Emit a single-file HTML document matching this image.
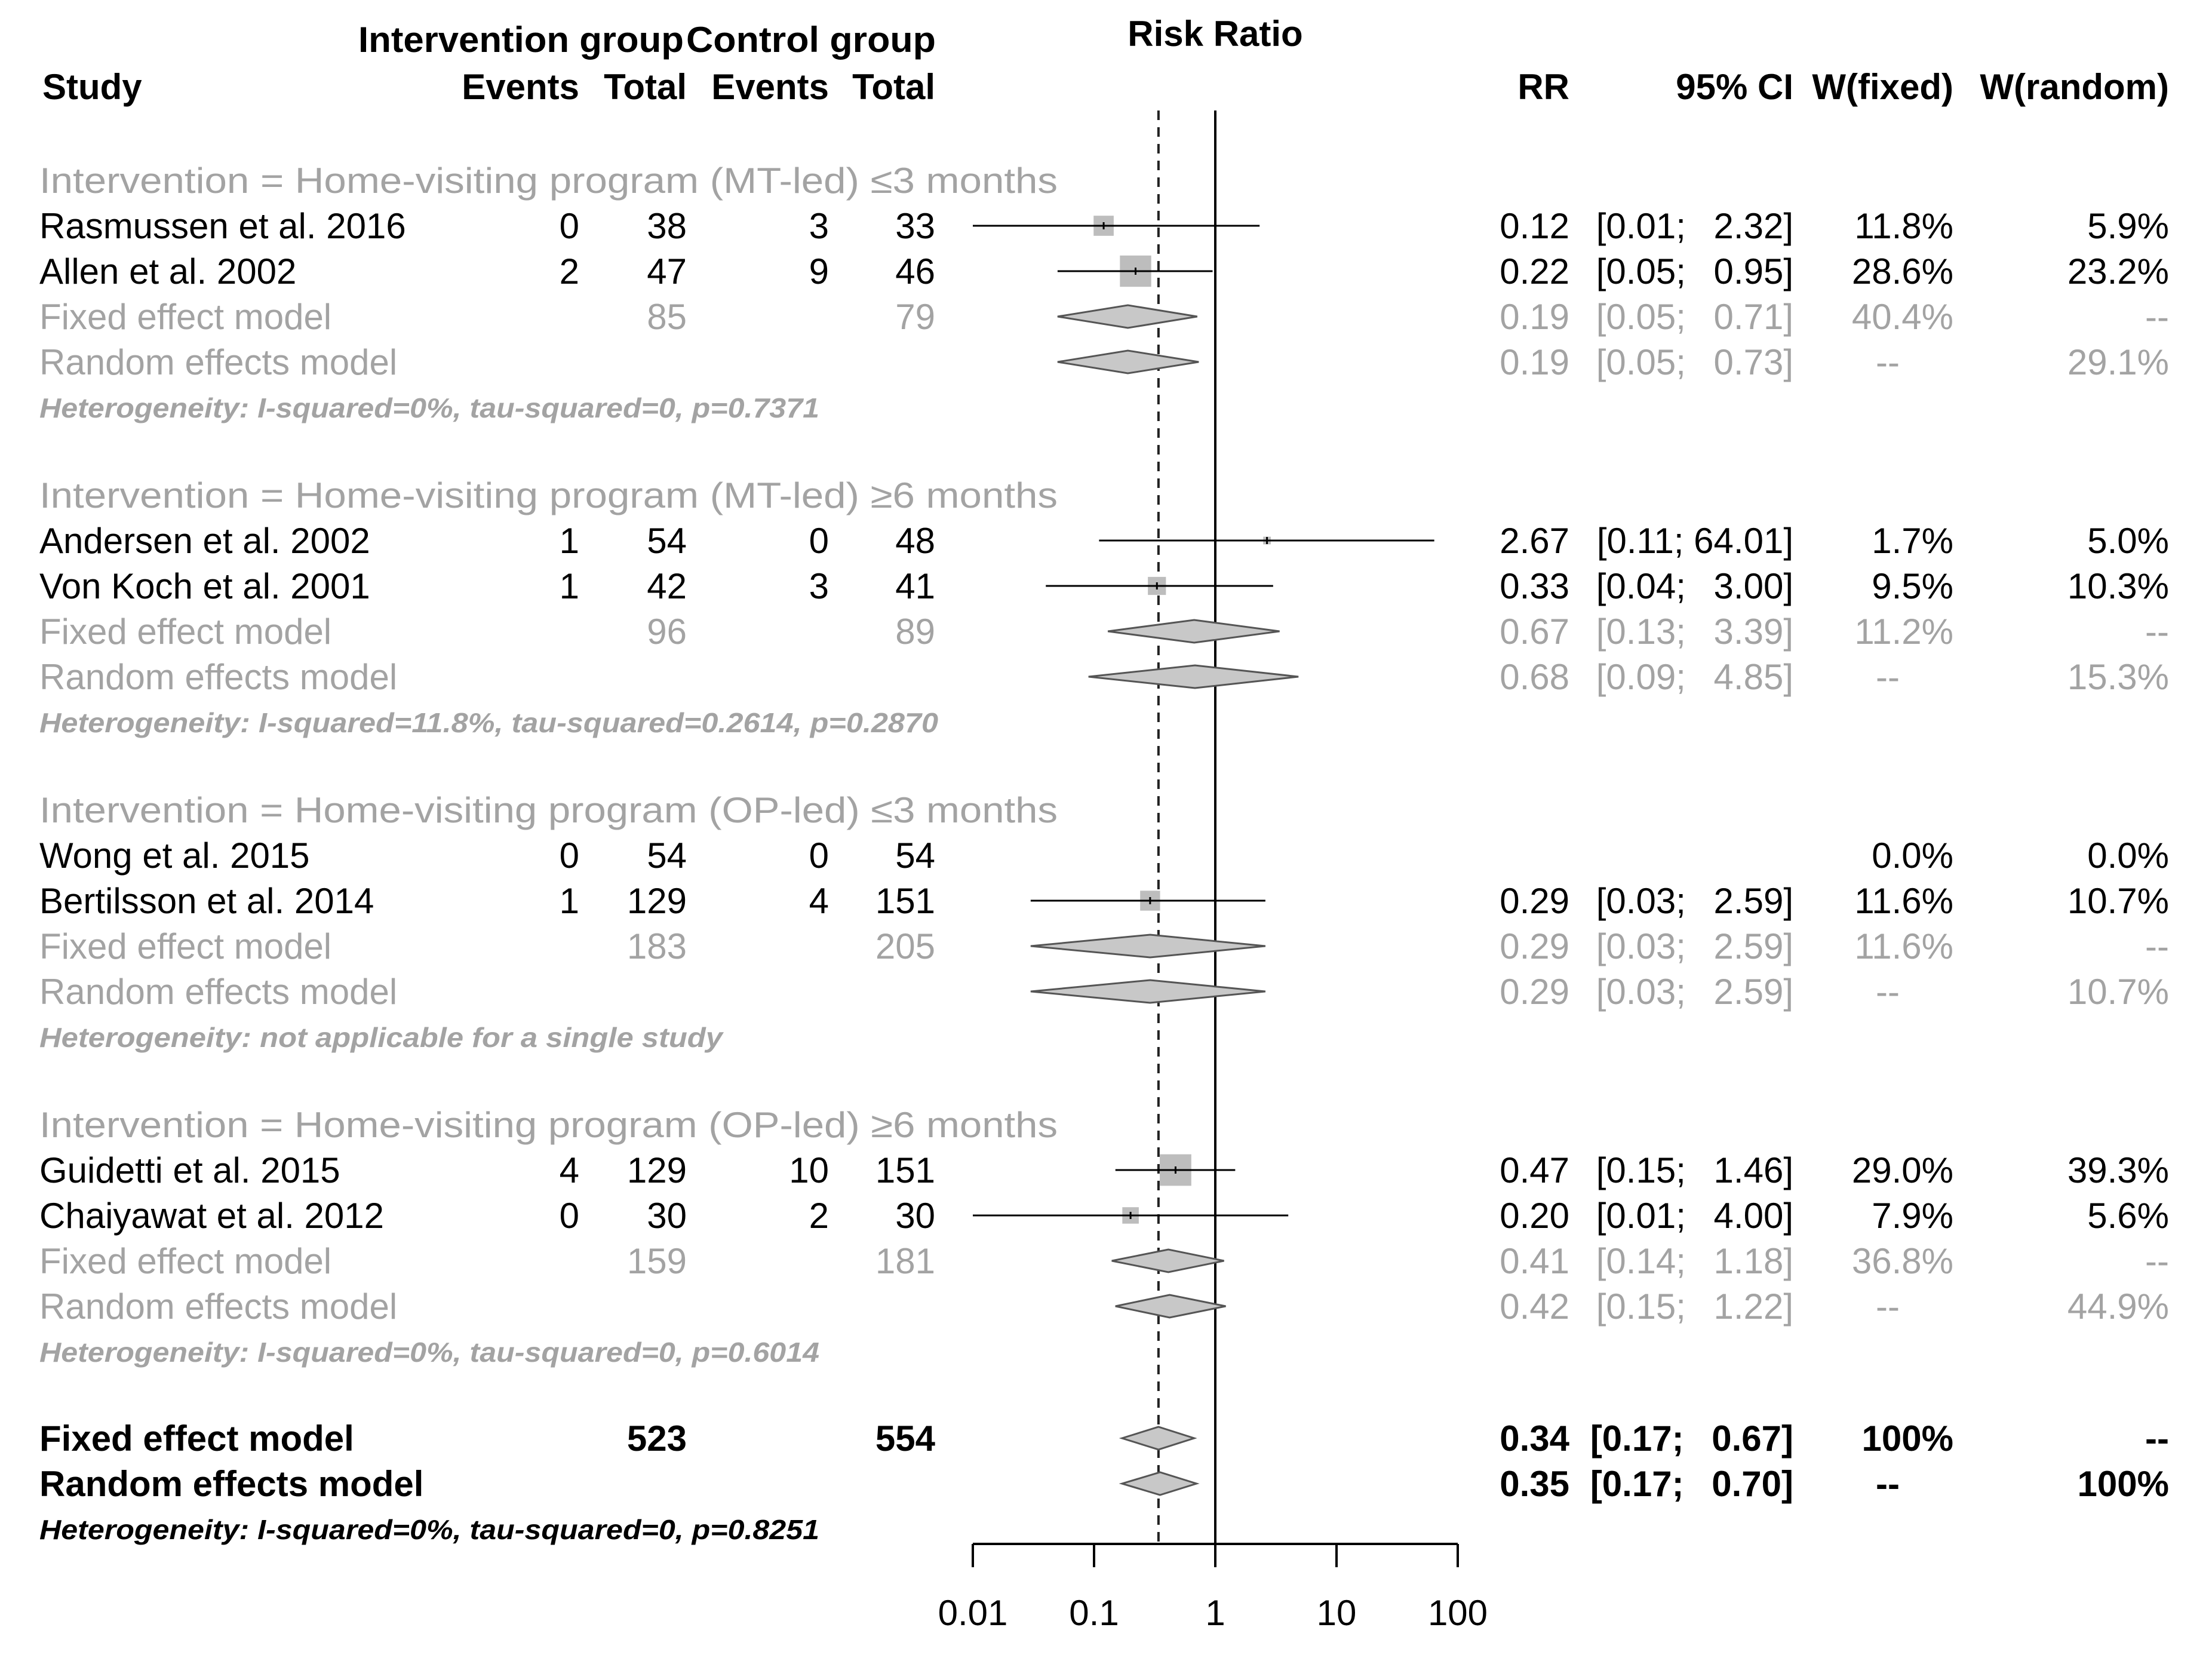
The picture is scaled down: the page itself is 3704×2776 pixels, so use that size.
<!DOCTYPE html>
<html><head><meta charset="utf-8"><style>
html,body{margin:0;padding:0;background:#fff}
svg{display:block}
text{font-family:"Liberation Sans",Arial,sans-serif}
</style></head><body>
<svg id="plot" width="3704" height="2776" viewBox="0 0 3704 2776" xmlns="http://www.w3.org/2000/svg"></svg>
<script>
const groupTitles=["Intervention = Home-visiting program (MT-led) \u22643 months","Intervention = Home-visiting program (MT-led) \u22656 months","Intervention = Home-visiting program (OP-led) \u22643 months","Intervention = Home-visiting program (OP-led) \u22656 months"];
const studies=[["Rasmussen et al. 2016","Allen et al. 2002"],["Andersen et al. 2002","Von Koch et al. 2001"],["Wong et al. 2015","Bertilsson et al. 2014"],["Guidetti et al. 2015","Chaiyawat et al. 2012"]];
const evI=[[0,2],[1,1],[0,1],[4,0]];
const totI=[[38,47],[54,42],[54,129],[129,30]];
const evC=[[3,9],[0,3],[0,4],[10,2]];
const totC=[[33,46],[48,41],[54,151],[151,30]];
const rr=[[0.12,0.22],[2.67,0.33],[null,0.29],[0.47,0.20]];
const lo=[[0.01,0.05],[0.11,0.04],[null,0.03],[0.15,0.01]];
const hi=[[2.32,0.95],[64.01,3.00],[null,2.59],[1.46,4.00]];
const wFix=[[11.8,28.6],[1.7,9.5],[0.0,11.6],[29.0,7.9]];
const wRan=[[5.9,23.2],[5.0,10.3],[0.0,10.7],[39.3,5.6]];
const sumTotI=[85,96,183,159];
const sumTotC=[79,89,205,181];
const fixRR=[0.19,0.67,0.29,0.41], fixLo=[0.05,0.13,0.03,0.14], fixHi=[0.71,3.39,2.59,1.18], fixW=["40.4%","11.2%","11.6%","36.8%"];
const ranRR=[0.19,0.68,0.29,0.42], ranLo=[0.05,0.09,0.03,0.15], ranHi=[0.73,4.85,2.59,1.22], ranW=["29.1%","15.3%","10.7%","44.9%"];
const hetText=["Heterogeneity: I-squared=0%, tau-squared=0, p=0.7371","Heterogeneity: I-squared=11.8%, tau-squared=0.2614, p=0.2870","Heterogeneity: not applicable for a single study","Heterogeneity: I-squared=0%, tau-squared=0, p=0.6014"];
const overallFix=[0.34,0.17,0.67], overallRan=[0.35,0.17,0.70];
const overallTot=[523,554];
const tickVals=[0.01,0.1,1,10,100];
const tickLabels=["0.01","0.1","1","10","100"];

const svg=document.getElementById('plot');
const NS="http://www.w3.org/2000/svg";
const X1=2035, DEC=203;
function xs(v){return X1+DEC*Math.log10(v);}
function el(tag,attrs){const e=document.createElementNS(NS,tag);for(const k in attrs)e.setAttribute(k,attrs[k]);svg.appendChild(e);return e;}
function txt(s,x,y,opt){opt=opt||{};const t=el('text',{x:x,y:y+21,'font-size':opt.size||60,fill:opt.fill||'#000','text-anchor':opt.anchor||'start'});
 if(opt.bold)t.setAttribute('font-weight','bold'); if(opt.italic)t.setAttribute('font-style','italic');
 if(opt.tl){t.setAttribute('textLength',opt.tl);t.setAttribute('lengthAdjust','spacingAndGlyphs');}
 t.textContent=s;return t;}
const GRAY='#a3a3a3';
const f2=v=>v.toFixed(2);
function ci(l,h){return "["+f2(l)+"; "+(h>=10?"":"\u2002")+f2(h)+"]";}
const C={ev1:970,tot1:1150,ev2:1388,tot2:1566,rr:2628,ci:3003,wf:3271,wr:3632,left:66};
const titleTL=1705;
const hetTL=[1306,1505,1144,1306];

// headers
txt("Intervention group",600,66,{bold:true,name:'intervention-group-header',tl:545});
txt("Control group",1149,66,{bold:true,name:'control-group-header',tl:418});
txt("Risk Ratio",X1,56,{bold:true,anchor:'middle',name:'risk-ratio-title'});
txt("Study",71,145,{bold:true,name:'study-header'});
txt("Events",C.ev1,145,{bold:true,anchor:'end',name:'events-header'});
txt("Total",C.tot1,145,{bold:true,anchor:'end',name:'total-header'});
txt("Events",C.ev2,145,{bold:true,anchor:'end',name:'events-header'});
txt("Total",C.tot2,145,{bold:true,anchor:'end',name:'total-header'});
txt("RR",C.rr,145,{bold:true,anchor:'end',name:'rr-header'});
txt("95% CI",C.ci,145,{bold:true,anchor:'end',name:'ci-header'});
txt("W(fixed)",C.wf,145,{bold:true,anchor:'end',name:'w-fixed-header'});
txt("W(random)",C.wr,145,{bold:true,anchor:'end',name:'w-random-header'});

// reference lines
const lnull=el('line',{x1:xs(1),x2:xs(1),y1:185,y2:2585,stroke:'#000','stroke-width':4});

const ldash=el('line',{x1:xs(overallFix[0]),x2:xs(overallFix[0]),y1:185,y2:2585,stroke:'#222','stroke-width':4,'stroke-dasharray':'16,12'});


function diamond(est,l,h,y,name){const d=el('polygon',{points:xs(l)+','+y+' '+xs(est)+','+(y-19)+' '+xs(h)+','+y+' '+xs(est)+','+(y+19),fill:'#c8c8c8',stroke:'#555','stroke-width':3});
 }

const ROW=76;
for(let g=0;g<4;g++){
 const y0=302+g*527;
 txt(groupTitles[g],C.left,y0,{fill:GRAY,name:'subgroup-title',tl:titleTL});
 for(let i=0;i<2;i++){
  const y=y0+ROW*(i+1);
  txt(studies[g][i],C.left,y,{name:'study-name'});
  txt(String(evI[g][i]),C.ev1,y,{anchor:'end',name:'intervention-events'});
  txt(String(totI[g][i]),C.tot1,y,{anchor:'end',name:'intervention-total'});
  txt(String(evC[g][i]),C.ev2,y,{anchor:'end',name:'control-events'});
  txt(String(totC[g][i]),C.tot2,y,{anchor:'end',name:'control-total'});
  if(rr[g][i]!==null){
   txt(f2(rr[g][i]),C.rr,y,{anchor:'end',name:'rr-value'});
   txt(ci(lo[g][i],hi[g][i]),C.ci,y,{anchor:'end',name:'ci-value'});
   const sz=98*Math.sqrt(wFix[g][i]/100);
   const sq=el('rect',{x:xs(rr[g][i])-sz/2,y:y-sz/2,width:sz,height:sz,fill:'#bdbdbd'});
   
   const cl=el('line',{x1:xs(lo[g][i]),x2:xs(hi[g][i]),y1:y,y2:y,stroke:'#000','stroke-width':3});
   
   const pt=el('line',{x1:xs(rr[g][i]),x2:xs(rr[g][i]),y1:y-6,y2:y+6,stroke:'#000','stroke-width':3});
   
  }
  txt(wFix[g][i].toFixed(1)+"%",C.wf,y,{anchor:'end',name:'weight-fixed'});
  txt(wRan[g][i].toFixed(1)+"%",C.wr,y,{anchor:'end',name:'weight-random'});
 }
 const yf=y0+ROW*3, yr=y0+ROW*4, yh=y0+ROW*5;
 txt("Fixed effect model",C.left,yf,{fill:GRAY,name:'subgroup-fixed-label'});
 txt(String(sumTotI[g]),C.tot1,yf,{fill:GRAY,anchor:'end',name:'subgroup-intervention-total'});
 txt(String(sumTotC[g]),C.tot2,yf,{fill:GRAY,anchor:'end',name:'subgroup-control-total'});
 txt(f2(fixRR[g]),C.rr,yf,{fill:GRAY,anchor:'end',name:'subgroup-fixed-rr'});
 txt(ci(fixLo[g],fixHi[g]),C.ci,yf,{fill:GRAY,anchor:'end',name:'subgroup-fixed-ci'});
 txt(fixW[g],C.wf,yf,{fill:GRAY,anchor:'end',name:'subgroup-fixed-weight'});
 txt("--",C.wr,yf,{fill:GRAY,anchor:'end',name:'subgroup-fixed-weight-random'});
 diamond(fixRR[g],fixLo[g],fixHi[g],yf,'subgroup-fixed-diamond');
 txt("Random effects model",C.left,yr,{fill:GRAY,name:'subgroup-random-label'});
 txt(f2(ranRR[g]),C.rr,yr,{fill:GRAY,anchor:'end',name:'subgroup-random-rr'});
 txt(ci(ranLo[g],ranHi[g]),C.ci,yr,{fill:GRAY,anchor:'end',name:'subgroup-random-ci'});
 txt("--",C.wf-90,yr,{fill:GRAY,anchor:'end',name:'subgroup-random-weight-fixed'});
 txt(ranW[g],C.wr,yr,{fill:GRAY,anchor:'end',name:'subgroup-random-weight'});
 diamond(ranRR[g],ranLo[g],ranHi[g],yr,'subgroup-random-diamond');
 txt(hetText[g],C.left,yh-4,{fill:GRAY,size:46,bold:true,italic:true,name:'subgroup-heterogeneity',tl:hetTL[g]});
}
// overall
const yo=2408, yo2=2484;
txt("Fixed effect model",C.left,yo,{bold:true,name:'overall-fixed-label'});
txt(String(overallTot[0]),C.tot1,yo,{bold:true,anchor:'end',name:'overall-intervention-total'});
txt(String(overallTot[1]),C.tot2,yo,{bold:true,anchor:'end',name:'overall-control-total'});
txt(f2(overallFix[0]),C.rr,yo,{bold:true,anchor:'end',name:'overall-fixed-rr'});
txt(ci(overallFix[1],overallFix[2]),C.ci,yo,{bold:true,anchor:'end',name:'overall-fixed-ci'});
txt("100%",C.wf,yo,{bold:true,anchor:'end',name:'overall-fixed-weight'});
txt("--",C.wr,yo,{bold:true,anchor:'end',name:'overall-fixed-weight-random'});
diamond(overallFix[0],overallFix[1],overallFix[2],yo,'overall-fixed-diamond');
txt("Random effects model",C.left,yo2,{bold:true,name:'overall-random-label'});
txt(f2(overallRan[0]),C.rr,yo2,{bold:true,anchor:'end',name:'overall-random-rr'});
txt(ci(overallRan[1],overallRan[2]),C.ci,yo2,{bold:true,anchor:'end',name:'overall-random-ci'});
txt("--",C.wf-90,yo2,{bold:true,anchor:'end',name:'overall-random-weight-fixed'});
txt("100%",C.wr,yo2,{bold:true,anchor:'end',name:'overall-random-weight'});
diamond(overallRan[0],overallRan[1],overallRan[2],yo2,'overall-random-diamond');
txt("Heterogeneity: I-squared=0%, tau-squared=0, p=0.8251",C.left,2556,{size:46,bold:true,italic:true,name:'overall-heterogeneity',tl:1306});

// axis
const ax=el('line',{x1:xs(tickVals[0]),x2:xs(tickVals[tickVals.length-1]),y1:2585,y2:2585,stroke:'#000','stroke-width':4});

tickVals.forEach((v,i)=>{
 const t=el('line',{x1:xs(v),x2:xs(v),y1:2585,y2:2624,stroke:'#000','stroke-width':4});
 
 txt(tickLabels[i],xs(v),2700,{anchor:'middle',name:'x-axis-tick-label'});
});
</script>
</body></html>
